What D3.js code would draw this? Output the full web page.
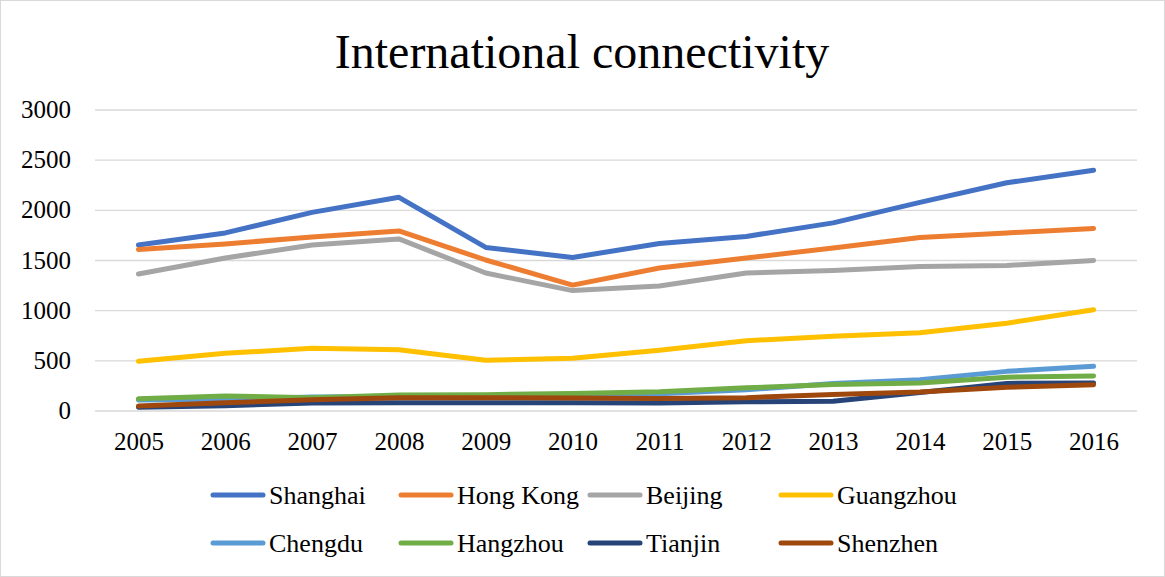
<!DOCTYPE html>
<html>
<head>
<meta charset="utf-8">
<script src="https://cdn.jsdelivr.net/npm/d3@7/dist/d3.min.js"></script>
<style>
  html, body { margin: 0; padding: 0; background: #fff; }
  svg { display: block; }
  text { font-family: "Liberation Serif", "Times New Roman", serif; fill: #000; }
</style>
</head>
<body>
<svg id="chart" width="1165" height="577"></svg>
<script>
// Year categories and y-axis ticks
const years = ["2005","2006","2007","2008","2009","2010","2011","2012","2013","2014","2015","2016"];
const yTicks = [0, 500, 1000, 1500, 2000, 2500, 3000];

// Connectivity values per city, 2005–2016
const shanghai  = [1650, 1770, 1975, 2125, 1625, 1525, 1665, 1735, 1870, 2075, 2270, 2395];
const hongKong  = [1605, 1660, 1730, 1790, 1500, 1250, 1420, 1520, 1620, 1725, 1770, 1815];
const beijing   = [1360, 1520, 1650, 1710, 1370, 1195, 1240, 1370, 1395, 1435, 1445, 1495];
const guangzhou = [490, 570, 620, 605, 500, 520, 600, 695, 740, 775, 870, 1005];
const chengdu   = [105, 112, 135, 140, 150, 158, 166, 206, 270, 306, 390, 440];
const hangzhou  = [117, 145, 128, 155, 158, 170, 186, 226, 260, 275, 332, 343];
const tianjin   = [32, 48, 75, 78, 77, 77, 76, 87, 93, 180, 270, 275];
const shenzhen  = [45, 78, 107, 128, 128, 125, 120, 128, 160, 185, 232, 257];

const seriesNames  = ["Shanghai", "Hong Kong", "Beijing", "Guangzhou", "Chengdu", "Hangzhou", "Tianjin", "Shenzhen"];
const seriesValues = [shanghai, hongKong, beijing, guangzhou, chengdu, hangzhou, tianjin, shenzhen];
const seriesColors = ["#4472C4", "#ED7D31", "#A5A5A5", "#FFC000", "#5B9BD5", "#70AD47", "#264478", "#9E480E"];

const svg = d3.select("#chart");
const W = 1165, H = 577;

// Outer chart border
svg.append("rect")
  .attr("x", 0.5).attr("y", 0.5)
  .attr("width", W - 1).attr("height", H - 1)
  .attr("fill", "#fff").attr("stroke", "#d9d9d9");

const plot = { left: 95, right: 1137, top: 109.5, bottom: 410.5 };

const x = d3.scalePoint().domain(years).range([plot.left, plot.right]).padding(0.5);
const y = d3.scaleLinear().domain([0, 3000]).range([plot.bottom, plot.top]);

// Title
svg.append("text")
  .attr("x", 582).attr("y", 68)
  .attr("text-anchor", "middle")
  .style("font-size", "48px")
  .text("International connectivity");

// Horizontal gridlines with value labels
const yAxis = d3.axisLeft(y).tickValues(yTicks).tickSize(-(plot.right - plot.left)).tickPadding(24).tickFormat(d3.format("d"));
const gy = svg.append("g").attr("transform", `translate(${plot.left},0)`).call(yAxis);
gy.select(".domain").remove();
gy.selectAll(".tick line").attr("stroke", "#d9d9d9").attr("stroke-width", 1.3);
gy.selectAll(".tick text").style("font-size", "25px").attr("fill", "#000");

// Year labels
const xAxis = d3.axisBottom(x).tickSize(0).tickPadding(22);
const gx = svg.append("g").attr("transform", `translate(0,${plot.bottom})`).call(xAxis);
gx.select(".domain").remove();
gx.selectAll(".tick text").style("font-size", "25px").attr("fill", "#000");

// Series lines
const line = d3.line()
  .x((d, i) => x(years[i]))
  .y(d => y(d));

svg.append("g").selectAll("path")
  .data(seriesValues)
  .join("path")
  .attr("d", d => line(d))
  .attr("fill", "none")
  .attr("stroke", (d, i) => seriesColors[i])
  .attr("stroke-width", 5)
  .attr("stroke-linejoin", "round")
  .attr("stroke-linecap", "round");

// Legend: two rows of four
const legendCols = [211, 399, 588, 779];
const legendRows = [495, 543];
const legend = svg.append("g").selectAll("g")
  .data(seriesNames)
  .join("g")
  .attr("transform", (d, i) => `translate(${legendCols[i % 4]},${legendRows[Math.floor(i / 4)]})`);

legend.append("line")
  .attr("x1", 2).attr("x2", 52)
  .attr("y1", 0).attr("y2", 0)
  .attr("stroke", (d, i) => seriesColors[i])
  .attr("stroke-width", 5)
  .attr("stroke-linecap", "round");

legend.append("text")
  .attr("x", 58).attr("y", 9)
  .style("font-size", "26px")
  .text(d => d);
</script>
</body>
</html>
